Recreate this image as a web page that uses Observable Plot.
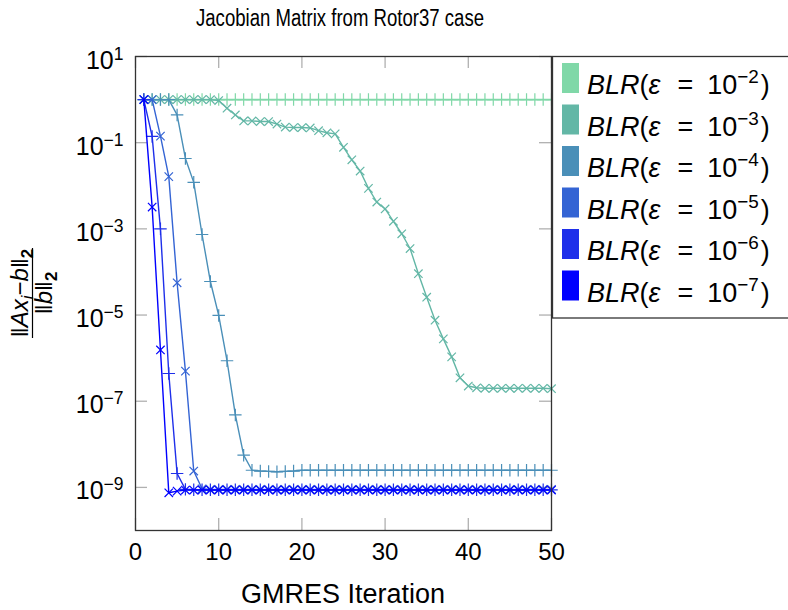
<!DOCTYPE html>
<html>
<head>
<meta charset="utf-8">
<script src="https://cdn.jsdelivr.net/npm/d3@7"></script>
<script src="https://cdn.jsdelivr.net/npm/@observablehq/plot@0.6"></script>
<style>
  body { margin: 0; background: #fff; }
  svg text { white-space: pre; }
</style>
</head>
<body>
<div id="chart"></div>
<script>
// GMRES iteration index
const iterations = [
  1, 2, 3, 4, 5, 6, 7, 8, 9, 10,
  11, 12, 13, 14, 15, 16, 17, 18, 19, 20,
  21, 22, 23, 24, 25, 26, 27, 28, 29, 30,
  31, 32, 33, 34, 35, 36, 37, 38, 39, 40,
  41, 42, 43, 44, 45, 46, 47, 48, 49, 50
];

// Compression tolerance exponents (epsilon = 10^e)
const epsExponents = [-2, -3, -4, -5, -6, -7];

// Relative residual ||A x_i - b||_2 / ||b||_2 for each BLR tolerance
const residEps2 = [
  1, 1, 1, 1, 1, 1, 1, 1, 1, 1,
  1, 1, 1, 1, 1, 1, 1, 1, 1, 1,
  1, 1, 1, 1, 1, 1, 1, 1, 1, 1,
  1, 1, 1, 1, 1, 1, 1, 1, 1, 1,
  1, 1, 1, 1, 1, 1, 1, 1, 1, 1
];
const residEps3 = [
  1, 1, 1, 1, 1, 1, 1, 1, 1, 0.95,
  0.63, 0.44, 0.32, 0.32, 0.31, 0.31, 0.27, 0.23, 0.225, 0.225,
  0.22, 0.19, 0.17, 0.16, 0.078, 0.040, 0.022, 0.0087, 0.0042, 0.0029,
  0.0015, 7.7e-4, 3.5e-4, 9.1e-5, 2.6e-5, 7.6e-6, 2.8e-6, 1.07e-6, 3.5e-7, 2.25e-7,
  2.05e-7, 2.0e-7, 2.0e-7, 2.0e-7, 2.0e-7, 2.0e-7, 2.0e-7, 2.0e-7, 2.0e-7, 1.95e-7
];
const residEps4 = [
  1, 1, 1, 1, 0.44, 0.043, 0.012, 7.4e-4, 6.0e-5, 9.8e-6,
  8.7e-7, 4.8e-8, 5.6e-9, 2.5e-9, 2.4e-9, 2.35e-9, 2.3e-9, 2.35e-9, 2.4e-9, 2.5e-9,
  2.5e-9, 2.5e-9, 2.5e-9, 2.5e-9, 2.5e-9, 2.5e-9, 2.5e-9, 2.5e-9, 2.5e-9, 2.5e-9,
  2.5e-9, 2.5e-9, 2.5e-9, 2.5e-9, 2.5e-9, 2.5e-9, 2.5e-9, 2.5e-9, 2.5e-9, 2.5e-9,
  2.5e-9, 2.5e-9, 2.5e-9, 2.5e-9, 2.5e-9, 2.5e-9, 2.5e-9, 2.5e-9, 2.5e-9, 2.5e-9
];
const residEps5 = [
  1, 1, 0.142, 0.0163, 5.6e-5, 5.0e-7, 2.4e-9, 9.3e-10, 9.0e-10, 9.0e-10,
  9.0e-10, 9.0e-10, 9.0e-10, 9.0e-10, 9.0e-10, 9.0e-10, 9.0e-10, 9.0e-10, 9.0e-10, 9.0e-10,
  9.0e-10, 9.0e-10, 9.0e-10, 9.0e-10, 9.0e-10, 9.0e-10, 9.0e-10, 9.0e-10, 9.0e-10, 9.0e-10,
  9.0e-10, 9.0e-10, 9.0e-10, 9.0e-10, 9.0e-10, 9.0e-10, 9.0e-10, 9.0e-10, 9.0e-10, 9.0e-10,
  9.0e-10, 9.0e-10, 9.0e-10, 9.0e-10, 9.0e-10, 9.0e-10, 9.0e-10, 9.0e-10, 9.0e-10, 9.0e-10
];
const residEps6 = [
  1, 0.14, 1.0e-3, 4.4e-7, 2.1e-9, 9.0e-10, 8.8e-10, 8.8e-10, 8.8e-10, 8.8e-10,
  8.8e-10, 8.8e-10, 8.8e-10, 8.8e-10, 8.8e-10, 8.8e-10, 8.8e-10, 8.8e-10, 8.8e-10, 8.8e-10,
  8.8e-10, 8.8e-10, 8.8e-10, 8.8e-10, 8.8e-10, 8.8e-10, 8.8e-10, 8.8e-10, 8.8e-10, 8.8e-10,
  8.8e-10, 8.8e-10, 8.8e-10, 8.8e-10, 8.8e-10, 8.8e-10, 8.8e-10, 8.8e-10, 8.8e-10, 8.8e-10,
  8.8e-10, 8.8e-10, 8.8e-10, 8.8e-10, 8.8e-10, 8.8e-10, 8.8e-10, 8.8e-10, 8.8e-10, 8.8e-10
];
const residEps7 = [
  1, 3.2e-3, 1.55e-6, 7.5e-10, 8.2e-10, 8.7e-10, 8.7e-10, 8.7e-10, 8.7e-10, 8.7e-10,
  8.7e-10, 8.7e-10, 8.7e-10, 8.7e-10, 8.7e-10, 8.7e-10, 8.7e-10, 8.7e-10, 8.7e-10, 8.7e-10,
  8.7e-10, 8.7e-10, 8.7e-10, 8.7e-10, 8.7e-10, 8.7e-10, 8.7e-10, 8.7e-10, 8.7e-10, 8.7e-10,
  8.7e-10, 8.7e-10, 8.7e-10, 8.7e-10, 8.7e-10, 8.7e-10, 8.7e-10, 8.7e-10, 8.7e-10, 8.7e-10,
  8.7e-10, 8.7e-10, 8.7e-10, 8.7e-10, 8.7e-10, 8.7e-10, 8.7e-10, 8.7e-10, 8.7e-10, 8.7e-10
];

// Axis ticks
const xTicks = [0, 10, 20, 30, 40, 50];
const yTicks = [1e-9, 1e-7, 1e-5, 1e-3, 1e-1, 10];

// Styling
const seriesColors = ["#80d8a8", "#63b7a6", "#4a8fb8", "#3464d4", "#1e2fea", "#0000ff"];
const seriesSymbols = ["plus", "times", "plus", "times", "plus", "times"];
const fontFamily = "'Liberation Sans', Arial, sans-serif";

const residuals = [residEps2, residEps3, residEps4, residEps5, residEps6, residEps7];
const series = residuals.map((vals) => iterations.map((it, i) => ({iter: it, value: vals[i]})));

const width = 788, height = 610;
const margin = {top: 56, right: 237, bottom: 80, left: 135};
const innerW = width - margin.left - margin.right;
const innerH = height - margin.top - margin.bottom;
const tickLen = 12;
const tickColor = "#b0b0b0";

const svg = Plot.plot({
  width, height,
  marginTop: margin.top, marginRight: margin.right,
  marginBottom: margin.bottom, marginLeft: margin.left,
  style: {fontFamily, background: "#fff", overflow: "visible"},
  x: {domain: [0, 50]},
  y: {type: "log", domain: [1e-10, 10]},
  marks: [
    // inward tick marks on all four sides
    Plot.ruleX(xTicks, {x: (d) => d, insetTop: innerH - tickLen, stroke: tickColor, strokeWidth: 1.3}),
    Plot.ruleX(xTicks, {x: (d) => d, insetBottom: innerH - tickLen, stroke: tickColor, strokeWidth: 1.3}),
    Plot.ruleY(yTicks, {y: (d) => d, insetRight: innerW - tickLen, stroke: tickColor, strokeWidth: 1.3}),
    Plot.ruleY(yTicks, {y: (d) => d, insetLeft: innerW - tickLen, stroke: tickColor, strokeWidth: 1.3}),
    // residual histories, one line + marker set per tolerance
    ...series.flatMap((rows, k) => [
      Plot.line(rows, {x: "iter", y: "value", stroke: seriesColors[k], strokeWidth: k === 0 ? 1.8 : 1.4}),
      Plot.dot(rows, {
        x: "iter", y: "value",
        symbol: seriesSymbols[k],
        r: seriesSymbols[k] === "plus" ? 4.1 : 3.9,
        stroke: seriesColors[k], strokeWidth: 1.2
      })
    ]),
    Plot.frame({stroke: "#333", strokeWidth: 1.3}),
    Plot.axisX({ticks: xTicks, tickSize: 0, tickPadding: 12, fontSize: 24, label: null}),
    Plot.axisY({
      ticks: yTicks, tickSize: 0, tickPadding: 12, fontSize: 25, label: null, dy: 4,
      tickFormat: (d) => "10^" + Math.round(Math.log10(d))
    })
  ]
});

document.getElementById("chart").append(svg);
const root = d3.select(svg);

// Rewrite y tick labels "10^e" as 10 with a superscript exponent
root.selectAll('[aria-label="y-axis tick label"] text').each(function () {
  const m = /^10\^(-?\d+)$/.exec(this.textContent);
  if (!m) return;
  const e = +m[1];
  const t = d3.select(this);
  t.text(null);
  t.append("tspan").text("10");
  t.append("tspan").attr("font-size", "0.7em").attr("dy", "-9")
    .text(e < 0 ? "\u2212" + (-e) : String(e));
});

// Title
root.append("text")
  .attr("x", margin.left + innerW / 2 - 3).attr("y", 26)
  .attr("text-anchor", "middle").attr("font-size", 23).attr("fill", "#000")
  .attr("textLength", 288).attr("lengthAdjust", "spacingAndGlyphs")
  .text("Jacobian Matrix from Rotor37 case");

// X axis label
root.append("text")
  .attr("x", margin.left + innerW / 2).attr("y", 603)
  .attr("text-anchor", "middle").attr("font-size", 27).attr("fill", "#000")
  .text("GMRES Iteration");

// Y axis label: ||A x_i - b||_2 / ||b||_2, rotated
const yl = root.append("g")
  .attr("transform", "translate(32.5,293) rotate(-90)")
  .attr("font-size", 24).attr("fill", "#000").attr("text-anchor", "middle");
const num = yl.append("text").attr("y", -5);
num.append("tspan").text("\u2016");
num.append("tspan").attr("font-style", "italic").text("Ax");
num.append("tspan").attr("font-style", "italic").attr("font-size", "0.7em").attr("dy", "5").text("i");
num.append("tspan").attr("dy", "-5").text("\u2212");
num.append("tspan").attr("font-style", "italic").text("b");
num.append("tspan").text("\u2016");
num.append("tspan").attr("font-weight", "bold").attr("font-size", "0.7em").attr("dy", "5").text("2");
yl.append("line").attr("x1", -45).attr("x2", 45).attr("y1", 0).attr("y2", 0)
  .attr("stroke", "#000").attr("stroke-width", 1.2);
const den = yl.append("text").attr("y", 19);
den.append("tspan").text("\u2016");
den.append("tspan").attr("font-style", "italic").text("b");
den.append("tspan").text("\u2016");
den.append("tspan").attr("font-weight", "bold").attr("font-size", "0.7em").attr("dy", "5").text("2");

// Legend
const lg = root.append("g").attr("text-anchor", "start");
lg.append("rect")
  .attr("x", 552.5).attr("y", 56.5).attr("width", 260).attr("height", 261.5)
  .attr("fill", "#fff").attr("stroke", "#333").attr("stroke-width", 1.3);
epsExponents.forEach((e, k) => {
  const top = 63 + k * 41.5;
  lg.append("rect")
    .attr("x", 562).attr("y", top).attr("width", 17).attr("height", 30)
    .attr("fill", seriesColors[k]);
  const t = lg.append("text").attr("x", 587).attr("y", top + 31)
    .attr("font-size", 27).attr("fill", "#000");
  t.append("tspan").attr("font-style", "italic").text("BLR");
  t.append("tspan").text("(");
  t.append("tspan").attr("font-style", "italic").text("\u03b5");
  t.append("tspan").attr("dx", 17).text("=");
  t.append("tspan").attr("dx", 14).text("10");
  t.append("tspan").attr("font-size", "0.7em").attr("dy", "-11").text("\u2212" + (-e));
  t.append("tspan").attr("dy", "11").attr("dx", 2).text(")");
});
</script>
</body>
</html>
